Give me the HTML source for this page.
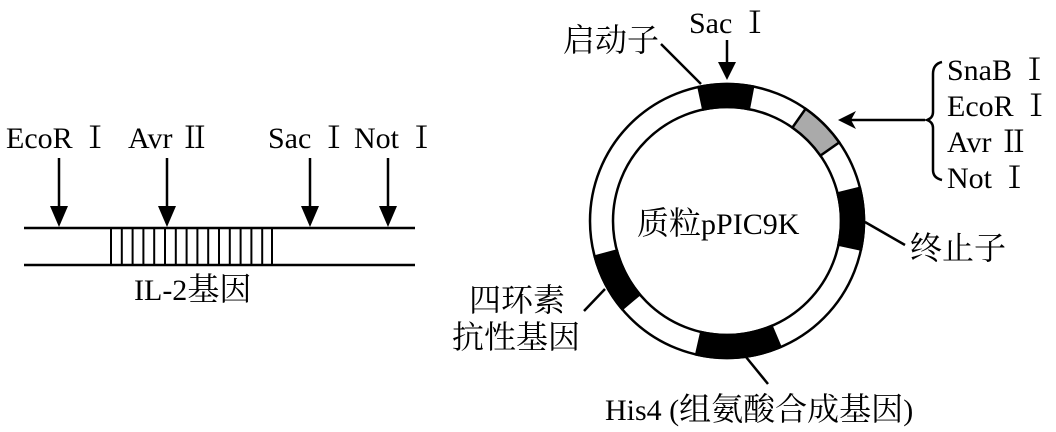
<!DOCTYPE html>
<html><head><meta charset="utf-8"><style>
html,body{margin:0;padding:0;background:#fff;}
svg{display:block;}
text{font-family:"Liberation Serif","Noto Serif CJK SC",serif;font-size:30px;fill:#000;}
.c{font-size:32px;}
</style></head><body>
<svg width="1056" height="432" viewBox="0 0 1056 432" xmlns="http://www.w3.org/2000/svg">
<g stroke="#000" stroke-width="2.5">
<line x1="24" y1="228" x2="415" y2="228"/>
<line x1="24" y1="265" x2="415" y2="265"/>
<g stroke-width="2">
<line x1="111" y1="228" x2="111" y2="265"/><line x1="121.8" y1="228" x2="121.8" y2="265"/>
<line x1="132.6" y1="228" x2="132.6" y2="265"/><line x1="143.4" y1="228" x2="143.4" y2="265"/>
<line x1="154.2" y1="228" x2="154.2" y2="265"/><line x1="165" y1="228" x2="165" y2="265"/>
<line x1="175.8" y1="228" x2="175.8" y2="265"/><line x1="186.6" y1="228" x2="186.6" y2="265"/>
<line x1="197.4" y1="228" x2="197.4" y2="265"/><line x1="208.2" y1="228" x2="208.2" y2="265"/>
<line x1="219" y1="228" x2="219" y2="265"/><line x1="229.8" y1="228" x2="229.8" y2="265"/>
<line x1="240.6" y1="228" x2="240.6" y2="265"/><line x1="251.4" y1="228" x2="251.4" y2="265"/>
<line x1="262.2" y1="228" x2="262.2" y2="265"/><line x1="272" y1="228" x2="272" y2="265"/>
</g>
<line x1="59" y1="158" x2="59" y2="210"/>
<line x1="167" y1="158" x2="167" y2="210"/>
<line x1="310" y1="158" x2="310" y2="210"/>
<line x1="388" y1="158" x2="388" y2="210"/>
</g>
<g fill="#000">
<polygon points="50,206 68,206 59,227"/>
<polygon points="158,206 176,206 167,227"/>
<polygon points="301,206 319,206 310,227"/>
<polygon points="379,206 397,206 388,227"/>
</g>
<text x="6" y="148">EcoR Ⅰ</text>
<text x="128" y="148">Avr Ⅱ</text>
<text x="268" y="148">Sac Ⅰ</text>
<text x="354" y="148">Not Ⅰ</text>
<text x="134" y="300">IL-2<tspan class="c">基因</tspan></text>

<g stroke="#000" stroke-width="2.5" fill="none">
<circle cx="727" cy="221" r="137"/>
<circle cx="727" cy="221" r="114"/>
</g>
<g stroke="#000" stroke-width="2.5">
<path fill="#000" d="M698.5,87 A137,137 0 0 1 753.1,86.5 L748.8,109.1 A114,114 0 0 0 703.3,109.5 Z"/>
<path fill="#aaa" d="M805.6,108.8 A137,137 0 0 1 839.2,142.4 L820.4,155.6 A114,114 0 0 0 792.4,127.6 Z"/>
<path fill="#000" d="M859.9,187.9 A137,137 0 0 1 861,249.5 L838.5,244.7 A114,114 0 0 0 837.6,193.4 Z"/>
<path fill="#000" d="M780.5,347.1 A137,137 0 0 1 696.2,354.5 L701.3,332.1 A114,114 0 0 0 771.5,325.9 Z"/>
<path fill="#000" d="M622.1,309.1 A137,137 0 0 1 594.7,256.5 L616.9,250.5 A114,114 0 0 0 639.7,294.3 Z"/>
</g>
<g stroke="#000" stroke-width="2.5" fill="none">
<line x1="661" y1="44" x2="701" y2="84"/>
<line x1="727" y1="40" x2="727" y2="66"/>
<line x1="925" y1="120" x2="850" y2="120"/>
<path d="M942,62 Q933,64 933,74 L933,112 Q933,118 927,120 Q933,122 933,128 L933,170 Q933,178 942,180"/>
<line x1="865" y1="222" x2="905" y2="245"/>
<line x1="605" y1="289" x2="584" y2="311"/>
<line x1="746" y1="357" x2="768" y2="384"/>
</g>
<polygon fill="#000" points="718,62 736,62 727,80"/>
<polygon fill="#000" points="838,120 856,111 851,120 856,129"/>

<text class="c" x="563" y="51">启动子</text>
<text x="689" y="33">Sac Ⅰ</text>
<text x="947" y="80">SnaB Ⅰ</text>
<text x="947" y="116">EcoR Ⅰ</text>
<text x="947" y="152">Avr Ⅱ</text>
<text x="947" y="188">Not Ⅰ</text>
<text x="637" y="234"><tspan class="c">质粒</tspan>pPIC9K</text>
<text class="c" x="910" y="259">终止子</text>
<text class="c" x="469" y="311">四环素</text>
<text class="c" x="452" y="348">抗性基因</text>
<text x="605" y="420">His4 (<tspan class="c">组氨酸合成基因</tspan>)</text>
</svg>
</body></html>
